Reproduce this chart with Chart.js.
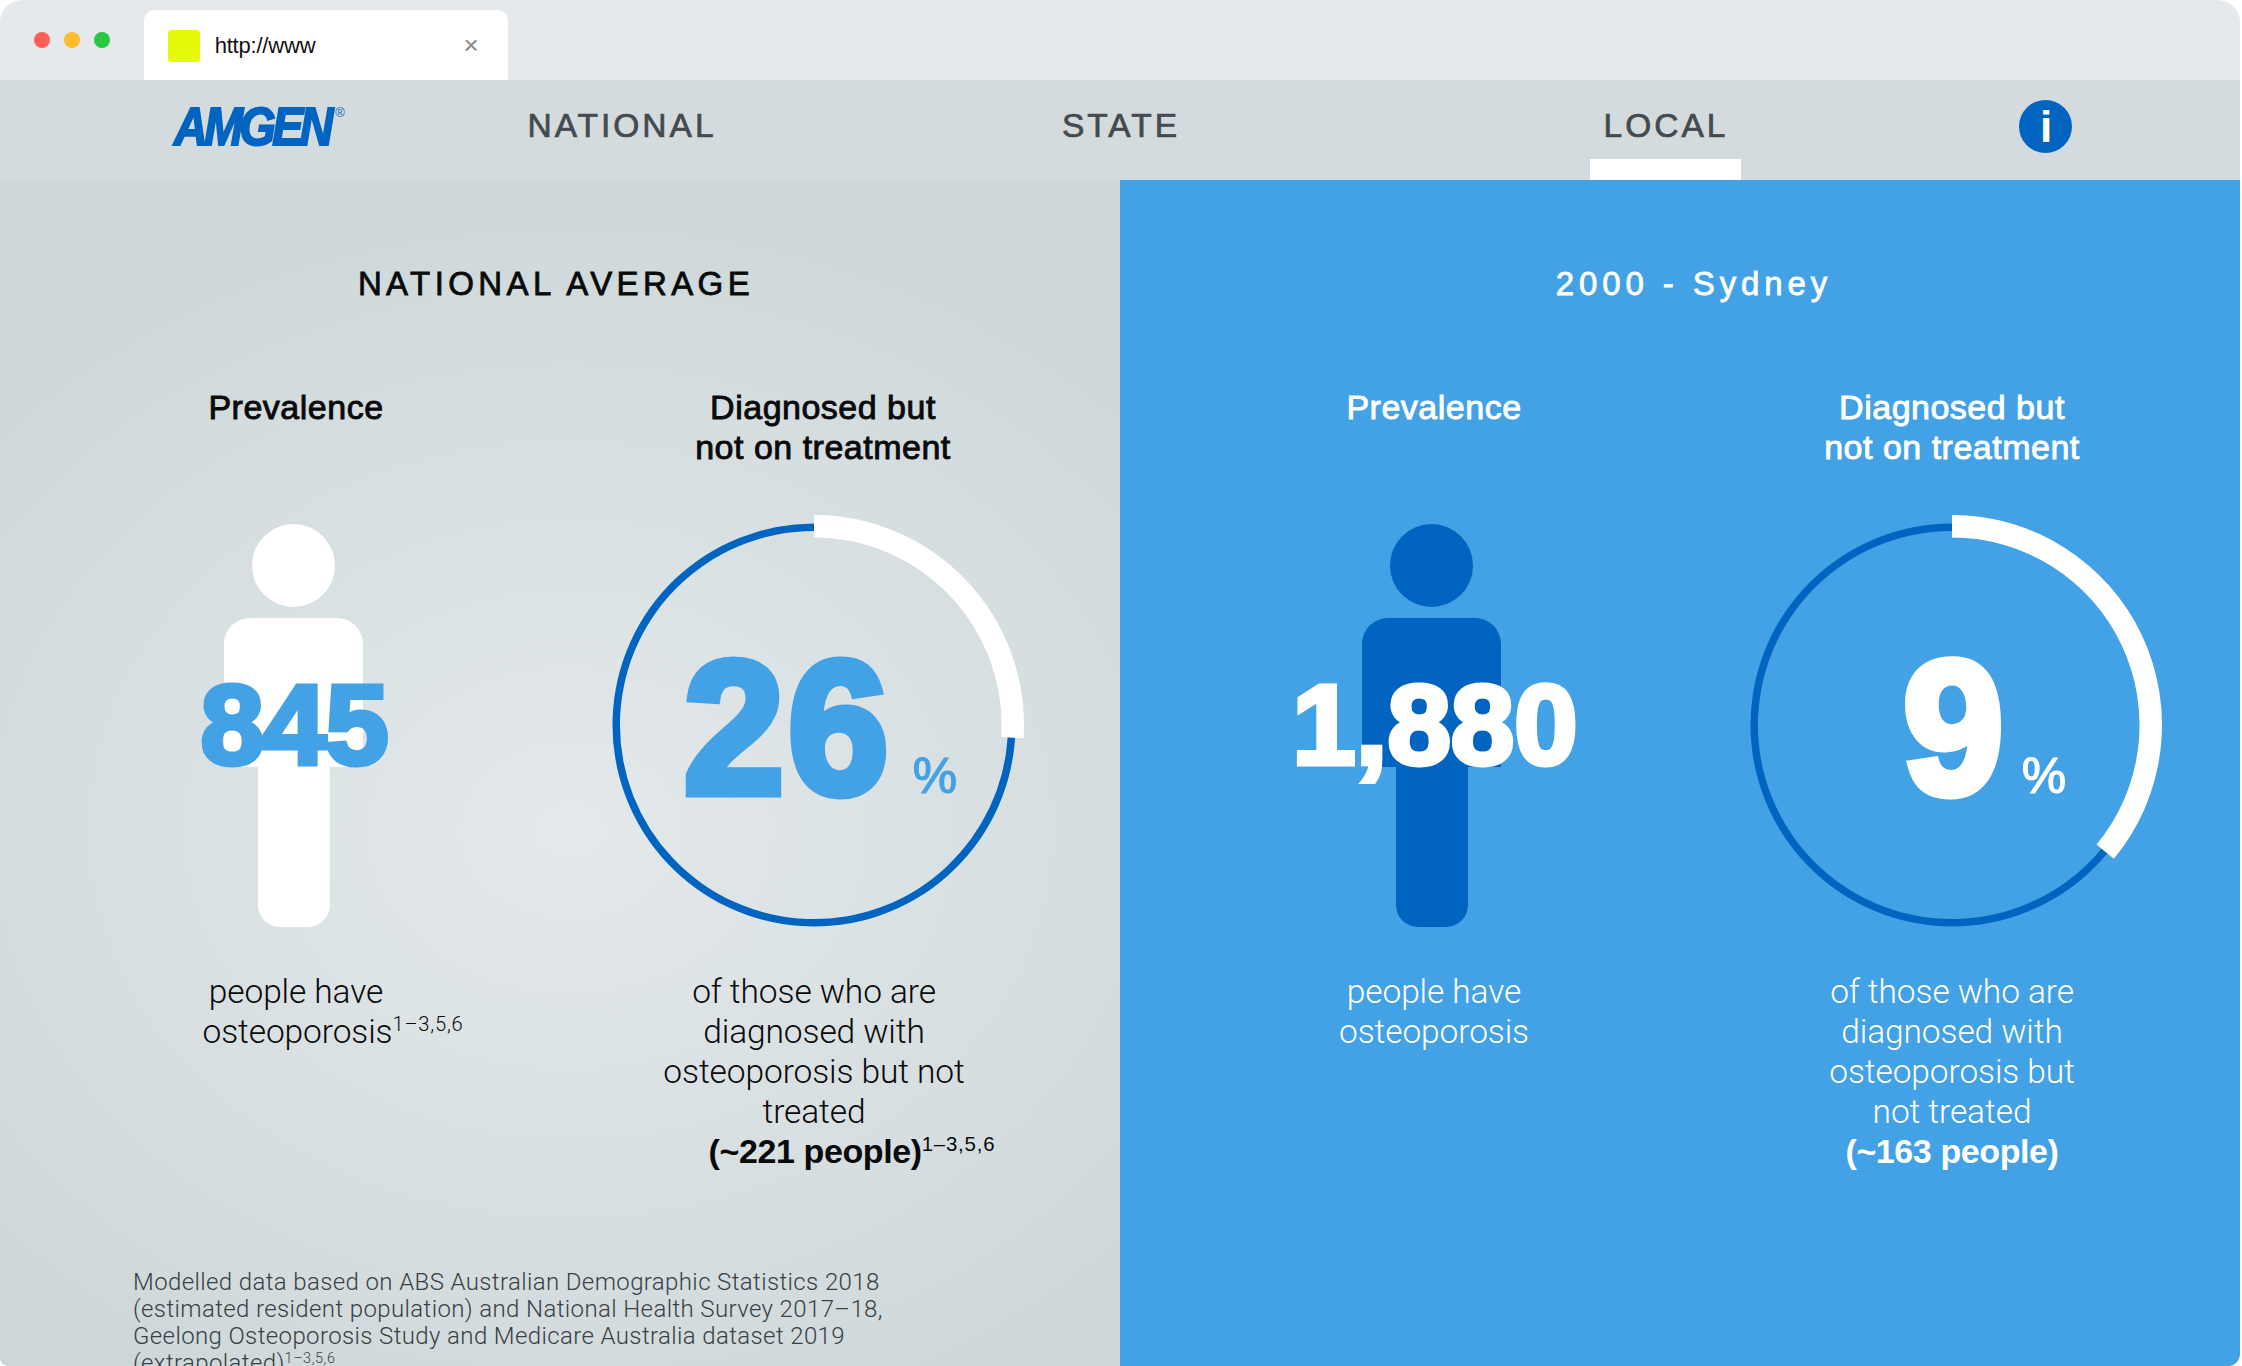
<!DOCTYPE html>
<html>
<head>
<meta charset="utf-8">
<script src="https://cdn.jsdelivr.net/npm/chart.js@4"></script>
<style>
html, body { margin: 0; padding: 0; background: #fff; }
#page { position: relative; width: 2242px; height: 1366px; overflow: hidden; font-family: "Liberation Sans", sans-serif; }
#page div, #page span.t { position: absolute; }
.t { white-space: nowrap; line-height: 1; transform: translate(-50%, -50%); }
.l { transform: translateY(-50%); }
sup { font-size: 0.6em; line-height: 0; vertical-align: baseline; position: relative; top: -0.55em; letter-spacing: 0.04em; }
#tabs { left: 0; top: 0; width: 2240px; height: 80px; background: #e5e9ec; border-radius: 22px 22px 0 0; }
#nav { left: 0; top: 80px; width: 2240px; height: 100px; background: #d4dbde; }
#left { left: 0; top: 180px; width: 1120px; height: 1186px; background: radial-gradient(ellipse 820px 660px at 570px 650px, #e4e9eb 0%, #cdd7da 100%); border-radius: 0 0 0 8px; }
#right { left: 1120px; top: 180px; width: 1120px; height: 1186px; background: #43a1e5; border-radius: 0 0 12px 0; }
.dot { width: 16px; height: 16px; border-radius: 50%; top: 32px; }
#tab { left: 144px; top: 10px; width: 364px; height: 70px; background: #fff; border-radius: 10px 10px 0 0; }
#fav { left: 168px; top: 30px; width: 32px; height: 32px; background: #e6f90a; border-radius: 3px; }
#active { left: 1590px; top: 159px; width: 151px; height: 21px; background: #fff; }
#info { left: 2019px; top: 100px; width: 53px; height: 53px; border-radius: 50%; background: #0064c0; }
.gauge { width: 420px; height: 420px; top: 515px; }
.head { width: 83px; height: 83px; border-radius: 50%; top: 524px; }
.torso { width: 139px; height: 149px; top: 618px; border-radius: 26px 26px 0 0; }
.legs { width: 72px; height: 170px; top: 757px; border-radius: 0 0 22px 22px; }
.nav-item { font-size: 33.5px; color: #444a4d; letter-spacing: 3px; -webkit-text-stroke: 0.7px #444a4d; }
.title { font-size: 33px; letter-spacing: 4.4px; -webkit-text-stroke: 0.8px currentColor; }
.head-line { font-size: 34px; letter-spacing: 0.5px; -webkit-text-stroke: 0.9px currentColor; }
.body-line { font-size: 33.5px; font-weight: 300; font-family: Roboto, sans-serif; letter-spacing: -0.1px; }
.strong-line { font-size: 34px; font-weight: bold; letter-spacing: -0.4px; }
.foot-line { font-size: 24px; font-weight: 300; font-family: Roboto, sans-serif; color: #3a4043; letter-spacing: 0.38px; }
.big { font-weight: bold; -webkit-text-stroke: 5px currentColor; font-size: 114px; letter-spacing: -1px; }
.huge { font-weight: bold; -webkit-text-stroke: 9px currentColor; font-size: 190px; letter-spacing: 4px; transform: translate(-50%, -50%) scaleX(0.95); }
.pct { font-size: 50px; -webkit-text-stroke: 1.2px currentColor; }
</style>
</head>
<body>
<div id="page">
  <div id="tabs"></div>
  <div id="nav"></div>
  <div id="left"></div>
  <div id="right"></div>
  <div class="dot" style="left:34px;background:#ff5f57"></div>
  <div class="dot" style="left:64px;background:#ffbd2e"></div>
  <div class="dot" style="left:94px;background:#28c840"></div>
  <div id="tab"></div>
  <div id="fav"></div>
  <div id="active"></div>
  <div id="info"></div>

  <div class="head" style="left:252px;background:#fff"></div>
  <div class="torso" style="left:224px;background:#fff"></div>
  <div class="legs" style="left:258px;background:#fff"></div>
  <div class="head" style="left:1390px;background:#0064c0"></div>
  <div class="torso" style="left:1362px;background:#0064c0"></div>
  <div class="legs" style="left:1396px;background:#0064c0"></div>

  <div class="gauge" style="left:604px"><canvas id="nationalRing"></canvas></div>
  <div class="gauge" style="left:604px"><canvas id="nationalArc"></canvas></div>
  <div class="gauge" style="left:1742px"><canvas id="sydneyRing"></canvas></div>
  <div class="gauge" style="left:1742px"><canvas id="sydneyArc"></canvas></div>
  <div id="labels"></div>
</div>

<script>
const gaugeCategories = ['Diagnosed but not on treatment', 'Rest'];
const nationalShare = [26, 74];
const sydneyShare = [36, 64];
const percentLabels = ['26', '9'];
const prevalenceLabels = ['845', '1,880'];
const navLabels = ['NATIONAL', 'STATE', 'LOCAL'];

const BLUE = '#43a1e5';
const DARK = '#0064c0';
const labels = document.getElementById('labels');

function put(html, x, y, cls, color, extra) {
    const el = document.createElement('span');
    el.className = 't ' + cls;
    el.innerHTML = html;
    el.style.left = x + 'px';
    el.style.top = y + 'px';
    if (color) el.style.color = color;
    if (extra) el.style.cssText += extra;
    labels.appendChild(el);
}

function createRing(id, data, colors, radius, cutout) {
    return new Chart(document.getElementById(id), {
        type: 'doughnut',
        data: {
            labels: gaugeCategories,
            datasets: [{ data: data, backgroundColor: colors, borderWidth: 0 }]
        },
        options: {
            responsive: true,
            maintainAspectRatio: false,
            animation: false,
            radius: radius,
            cutout: cutout,
            plugins: { legend: { display: false }, tooltip: { enabled: false } }
        }
    });
}

createRing('nationalRing', nationalShare, ['transparent', DARK], 201.5, '96.3%');
createRing('nationalArc', nationalShare, ['#ffffff', 'transparent'], 210, '89.3%');
createRing('sydneyRing', sydneyShare, ['transparent', DARK], 201.5, '96.3%');
createRing('sydneyArc', sydneyShare, ['#ffffff', 'transparent'], 210, '89.3%');

// browser chrome and nav
put('http://www', 265, 46, '', '#111', 'font-size:22px;letter-spacing:-0.2px');
put('×', 471, 45, '', '#888', 'font-size:26px');
put('AMGEN', 252, 126, '', DARK, 'font-size:53px;font-weight:bold;font-style:italic;letter-spacing:-4px;-webkit-text-stroke:2px ' + DARK + ';transform:translate(-50%,-50%) scaleX(0.88)');
put('®', 340, 112, '', DARK, 'font-size:13px');
put(navLabels[0], 622, 126, 'nav-item');
put(navLabels[1], 1121, 126, 'nav-item');
put(navLabels[2], 1666, 126, 'nav-item');
put('i', 2046, 127, '', '#fff', 'font-size:44px;font-weight:bold');

put('NATIONAL AVERAGE', 556, 283, 'title', '#0a0a0a');
put('2000 - Sydney', 1694, 283, 'title', '#fff', 'letter-spacing:4.9px');

// left panel
put('Prevalence', 296, 406.5, 'head-line', '#0a0a0a');
put('Diagnosed but', 823, 406.5, 'head-line', '#0a0a0a');
put('not on treatment', 823, 446.5, 'head-line', '#0a0a0a');
put(prevalenceLabels[0], 294, 725, 'big', BLUE);
put(percentLabels[0], 788, 727, 'huge', BLUE);
put('%', 935, 776, 'pct', BLUE);
put('people have', 296, 991.5, 'body-line', '#0a0a0a');
put('osteoporosis<sup>1–3,5,6</sup>', 333, 1031.5, 'body-line', '#0a0a0a');
['of those who are', 'diagnosed with', 'osteoporosis but not', 'treated'].forEach((line, i) => {
    put(line, 814, 991.5 + i * 40, 'body-line', '#0a0a0a');
});
put('(~221 people)<sup style="font-weight:300">1–3,5,6</sup>', 852, 1150.5, 'strong-line', '#0a0a0a');

// right panel
put('Prevalence', 1434, 406.5, 'head-line', '#fff');
put('Diagnosed but', 1952, 406.5, 'head-line', '#fff');
put('not on treatment', 1952, 446.5, 'head-line', '#fff');
put(prevalenceLabels[1], 1435, 725, 'big', '#fff', 'letter-spacing:0');
put(percentLabels[1], 1955, 727, 'huge', '#fff');
put('%', 2044, 776, 'pct', '#fff');
put('people have', 1434, 991.5, 'body-line', '#fff');
put('osteoporosis', 1434, 1031.5, 'body-line', '#fff');
['of those who are', 'diagnosed with', 'osteoporosis but', 'not treated'].forEach((line, i) => {
    put(line, 1952, 991.5 + i * 40, 'body-line', '#fff');
});
put('(~163 people)', 1952, 1150.5, 'strong-line', '#fff');

// footnote
['Modelled data based on ABS Australian Demographic Statistics 2018',
 '(estimated resident population) and National Health Survey 2017–18,',
 'Geelong Osteoporosis Study and Medicare Australia dataset 2019',
 '(extrapolated)<sup>1–3,5,6</sup>'].forEach((line, i) => {
    put(line, 133, 1282 + i * 27, 'foot-line l');
});
</script>
</body>
</html>
